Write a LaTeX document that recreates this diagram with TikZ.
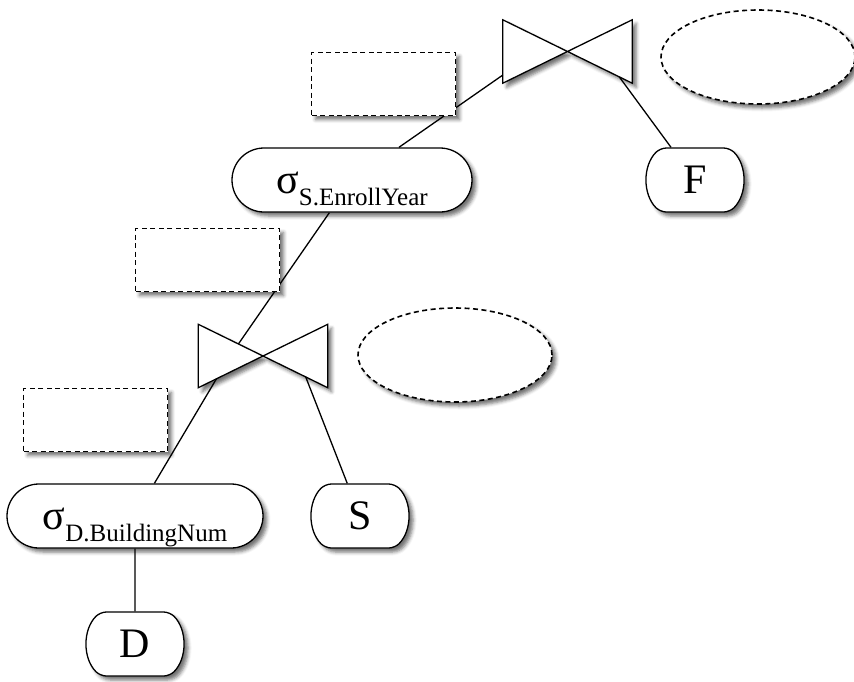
\documentclass[tikz,border=0pt]{standalone}
\usepackage{fontspec}
\setmainfont{Liberation Serif}
\usetikzlibrary{shapes.misc,shapes.geometric,shadows.blur,calc}

\newcommand{\selcond}[1]{σ\raisebox{-12pt}{\fontsize{25}{30}\selectfont #1}}

\tikzset{
  soft/.style={blur shadow={shadow xshift=4pt,shadow yshift=-4pt,shadow blur radius=3.5pt,shadow opacity=55}},
  rel/.style={draw,line width=1.3pt,fill=white,soft,rounded rectangle,rounded rectangle arc length=90,
    rounded corners=6pt,minimum width=96pt,minimum height=64pt,inner sep=0pt,font=\fontsize{42}{50}\selectfont},
  sel/.style={draw,line width=1.3pt,fill=white,soft,rounded rectangle,minimum height=64pt,
    inner sep=0pt,text height=26pt,text depth=0pt,font=\fontsize{42}{50}\selectfont},
  bowtie/.style={rectangle,inner sep=0pt,minimum width=129pt,minimum height=63pt},
  tie/.style={draw,line width=1.3pt,fill=white,soft,line join=miter},
  annot/.style={draw,dash pattern=on 5pt off 3.5pt,line width=1.6pt,fill=white,soft,rectangle,
    minimum width=144pt,minimum height=63pt},
  cost/.style={draw,dash pattern=on 5pt off 3.5pt,line width=1.6pt,fill=white,soft,ellipse,
    minimum width=194pt,minimum height=94pt},
  link/.style={line width=1.3pt}
}

\begin{document}
\begin{tikzpicture}[x=1pt,y=-1pt]
\useasboundingbox (0,0) rectangle (854,681);

% Join operators
\node[bowtie] (join1) at (567.5,51.5) {};
\node[bowtie] (join2) at (263,356) {};
\filldraw[tie] (join1.north west) -- (join1.south east) -- (join1.north east) -- (join1.south west) -- cycle;
\filldraw[tie] (join2.north west) -- (join2.south east) -- (join2.north east) -- (join2.south west) -- cycle;

% Selections and relations
\node[sel,minimum width=240pt] (sel1) at (352,180) {\selcond{S.EnrollYear}};
\node[sel,minimum width=256pt] (sel2) at (135,516) {\selcond{D.BuildingNum}};
\node[rel] (relF) at (695,180) {F};
\node[rel] (relS) at (360,516) {S};
\node[rel] (relD) at (135,644) {D};

% Edges
\draw[link] (sel1) -- (join1.200);
\draw[link] (relF) -- ($(join1.center)!0.8!(join1.south east)$);
\draw[link] (sel1) -- ($(join2.center)!0.38!(join2.north west)$);
\draw[link] (sel2) -- ($(join2.center)!0.72!(join2.south west)$);
\draw[link] (relS) -- ($(join2.center)!0.66!(join2.south east)$);
\draw[link] (sel2) -- (relD);

% Empty annotation boxes
\node[annot] (box1) at (383.5,84) {};
\node[annot] (box2) at (207.5,260) {};
\node[annot] (box3) at (95.5,420) {};
\node[cost] (cost1) at (758,57) {};
\node[cost] (cost2) at (455,355) {};
\end{tikzpicture}
\end{document}
